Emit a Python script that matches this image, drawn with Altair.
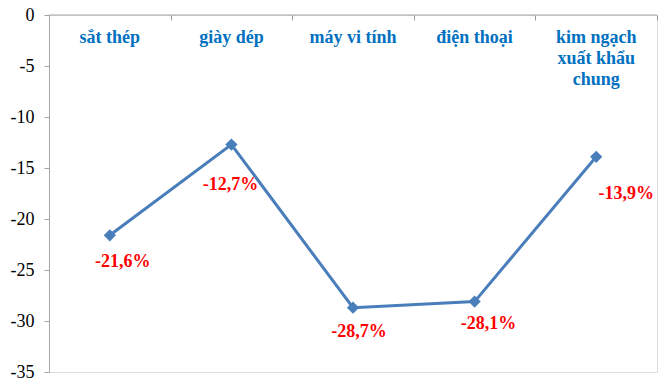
import altair as alt
import pandas as pd

categories = ["sắt thép", "giày dép", "máy vi tính", "điện thoại", "kim ngạch\nxuất khẩu\nchung"]
values = [-21.6, -12.7, -28.7, -28.1, -13.9]
labels = ["-21,6%", "-12,7%", "-28,7%", "-28,1%", "-13,9%"]
y_ticks = [0, -5, -10, -15, -20, -25, -30, -35]

df = pd.DataFrame({"cat": categories, "value": values, "label": labels})

FONT = "'Liberation Serif', 'DejaVu Serif', serif"
W, H = 608, 357

x_enc = alt.X("cat:N", sort=categories,
              scale=alt.Scale(paddingInner=0, paddingOuter=0),
              axis=alt.Axis(orient="top", title=None, labels=False, domain=False,
                            tickBand="extent", tickSize=5, offset=-5,
                            tickColor="#999999", tickWidth=1))
yscale = alt.Scale(domain=[-35, 0], nice=False, zero=False)
y_enc = alt.Y("value:Q", scale=yscale,
              axis=alt.Axis(title=None, values=y_ticks, grid=False, domainColor="#A6A6A6",
                            tickColor="#A6A6A6", tickSize=5, labelFont=FONT, labelFontSize=18,
                            labelColor="#000000", labelPadding=10, labelFlush=False,
                            labelExpr="toString(datum.value)"))

base = alt.Chart(df)

top_line = alt.Chart(pd.DataFrame({"z": [0]})).mark_rule(color="#A6A6A6", strokeWidth=1).encode(
    y=alt.Y("z:Q", scale=yscale),
    x=alt.value(0), x2=alt.value(W))

line = base.mark_line(color="#4A7EBB", strokeWidth=3).encode(x=x_enc, y=y_enc)
pts = base.mark_point(shape="diamond", filled=True, color="#4A7EBB", size=150, opacity=1).encode(
    x=alt.X("cat:N", sort=categories), y="value:Q")

cat_text = base.mark_text(font=FONT, fontSize=18, fontWeight="bold", color="#0070C0",
                          lineBreak="\n", lineHeight=21, baseline="middle").encode(
    x=alt.X("cat:N", sort=categories), y=alt.value(23), text="cat:N")

offsets = [(13, 27), (-1, 40), (6, 24), (14, 22), (30, 37)]
label_layers = []
for i, (dx, dy) in enumerate(offsets):
    label_layers.append(
        alt.Chart(df.iloc[[i]]).mark_text(font=FONT, fontSize=18, fontWeight="bold",
                                          color="#FF0000", dx=dx, dy=dy, baseline="middle").encode(
            x=alt.X("cat:N", sort=categories), y="value:Q", text="label:N"))

chart = alt.layer(line, top_line, pts, cat_text, *label_layers).properties(
    width=W, height=H, autosize=alt.AutoSizeParams(type="none"),
    padding={"left": 49, "top": 15, "right": 6, "bottom": 12}
).configure_view(strokeWidth=0, stroke="transparent").configure(background="white")

chart.save("out.html", embed_options={"renderer": "svg", "actions": False})
